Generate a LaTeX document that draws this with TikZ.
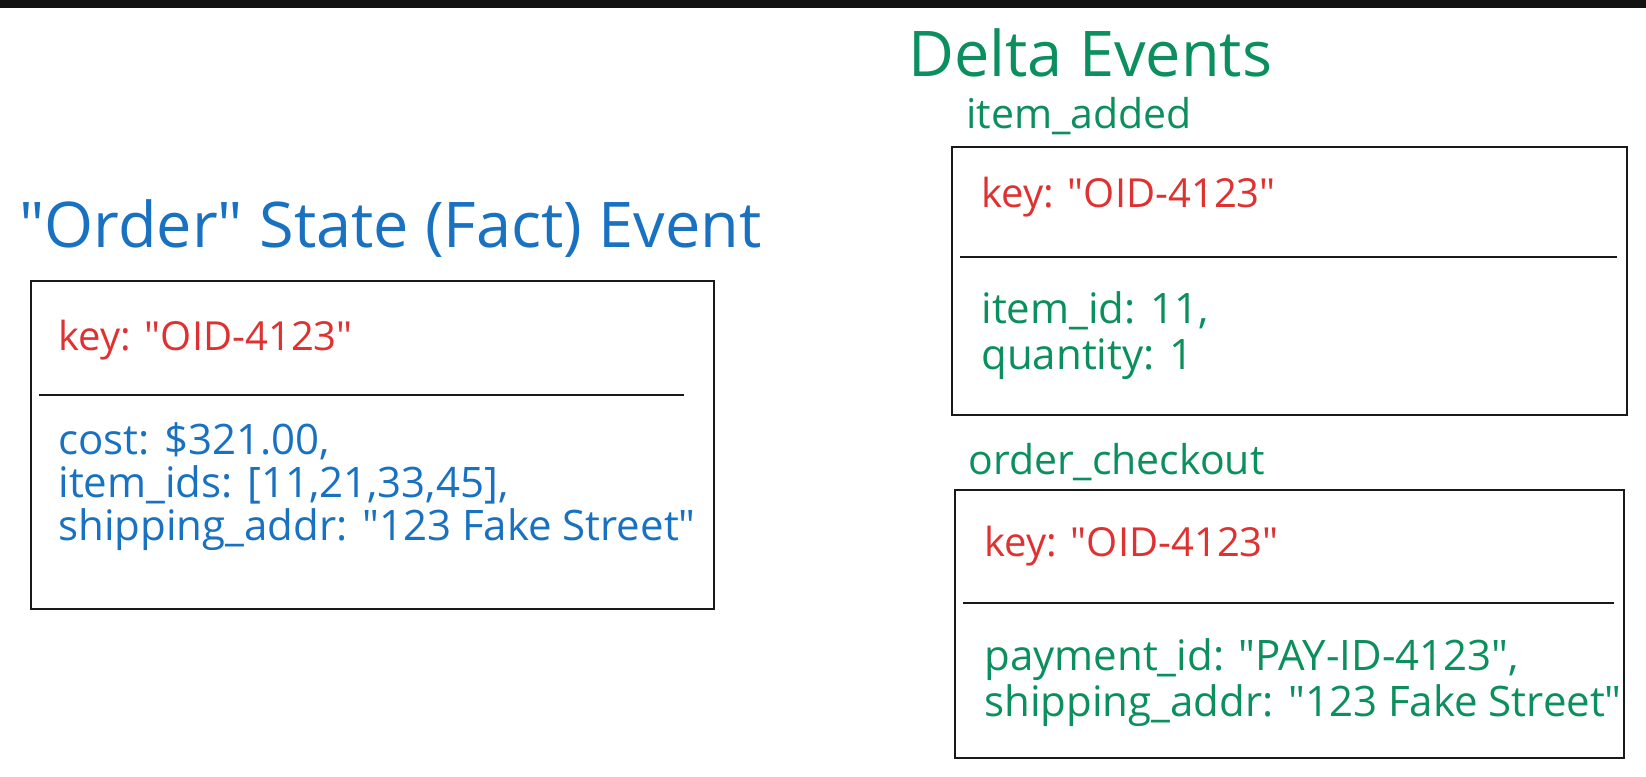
\documentclass[tikz,border=0pt]{standalone}
\usepackage{fontspec}
\setmainfont{Open Sans}
\usetikzlibrary{positioning}
\definecolor{factblue}{HTML}{1971C2}
\definecolor{keyred}{HTML}{E03131}
\definecolor{deltagreen}{HTML}{0C8F5E}
\newcommand{\dq}{\textquotedbl}

\begin{document}
\begin{tikzpicture}[
    x=0.5pt, y=-0.5pt,
    eventbox/.style={rectangle, draw=black!90, line width=1.4pt, inner sep=0pt},
    divider/.style={black!90, line width=1.3pt},
    heading/.style={font=\fontsize{31.5}{36}\selectfont, anchor=base west, inner sep=0pt},
    subhead/.style={font=\fontsize{20.5}{24}\selectfont, text=deltagreen, anchor=base west, inner sep=0pt},
    keyline/.style={font=\fontsize{20}{24}\selectfont, text=keyred, anchor=base west, inner sep=0pt},
    fields/.style={font=\fontsize{21}{25}\selectfont, anchor=base west, inner sep=0pt}
]
% Canvas and top bar
\useasboundingbox[fill=white] (0,0) rectangle (1646,777);
\fill[black!93] (0,0) rectangle (1646,8);

% Fact event
\node[heading, text=factblue] (facttitle) at (19,247) {\dq Order\dq{} State (Fact) Event};
\node[eventbox, minimum width=341.5pt, minimum height=164pt] (fact) at (372.5,445) {};
\node[keyline] (factkey) at (58,350) {key: \dq OID-4123\dq};
\coordinate (factdivL) at (39,395);
\coordinate (factdivR) at (684,395);
\node[fields, text=factblue] (cost) at (58,454) {cost: \$321.00,};
\node[fields, text=factblue] (itemids) at (58,497) {item\_ids: [11,21,33,45],};
\node[fields, text=factblue] (factaddr) at (58,540) {shipping\_addr: \dq 123 Fake Street\dq};

% Delta events
\node[heading, text=deltagreen] (deltatitle) at (908,76) {Delta Events};

% item_added
\node[subhead] (addedname) at (966,128) {item\_added};
\node[eventbox, minimum width=337.5pt, minimum height=134pt] (added) at (1289.5,281) {};
\node[keyline] (addedkey) at (981,207) {key: \dq OID-4123\dq};
\coordinate (addeddivL) at (960,257);
\coordinate (addeddivR) at (1617,257);
\node[fields, text=deltagreen] (itemid) at (981,323) {item\_id: 11,};
\node[fields, text=deltagreen] (qty) at (981,369) {quantity: 1};

% order_checkout
\node[subhead] (checkoutname) at (968,474) {order\_checkout};
\node[eventbox, minimum width=334.5pt, minimum height=134pt] (checkout) at (1289.5,624) {};
\node[keyline] (checkoutkey) at (984,556) {key: \dq OID-4123\dq};
\coordinate (checkoutdivL) at (963,603);
\coordinate (checkoutdivR) at (1614,603);
\node[fields, text=deltagreen] (payid) at (984,670) {payment\_id: \dq PAY-ID-4123\dq,};
\node[fields, text=deltagreen] (checkoutaddr) at (984,716) {shipping\_addr: \dq 123 Fake Street\dq};

% Dividers
\draw[divider] (factdivL) -- (factdivR);
\draw[divider] (addeddivL) -- (addeddivR);
\draw[divider] (checkoutdivL) -- (checkoutdivR);
\end{tikzpicture}
\end{document}
